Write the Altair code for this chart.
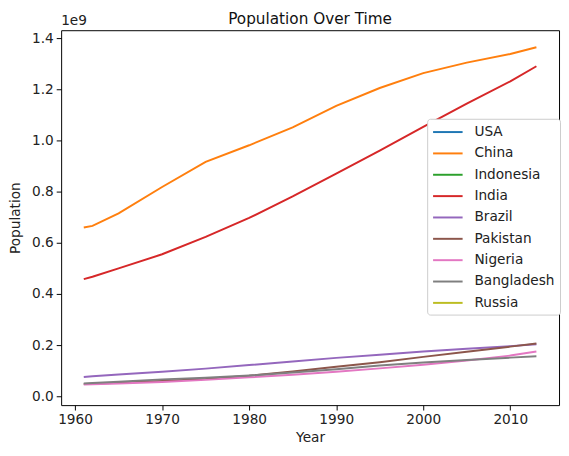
import altair as alt
import pandas as pd

countries = ["USA", "China", "Indonesia", "India", "Brazil", "Pakistan", "Nigeria", "Bangladesh", "Russia"]
colors = ["#1f77b4", "#ff7f0e", "#2ca02c", "#d62728", "#9467bd", "#8c564b", "#e377c2", "#7f7f7f", "#bcbd22"]

years = [1961, 1962, 1965, 1970, 1975, 1980, 1985, 1990, 1995, 2000, 2005, 2010, 2013]
china = [0.660, 0.666, 0.715, 0.818, 0.916, 0.981, 1.051, 1.135, 1.205, 1.263, 1.304, 1.338, 1.364]
india = [0.458, 0.467, 0.500, 0.555, 0.623, 0.697, 0.781, 0.870, 0.960, 1.053, 1.144, 1.231, 1.290]
brazil = [0.075, 0.078, 0.085, 0.096, 0.108, 0.122, 0.136, 0.150, 0.162, 0.175, 0.186, 0.196, 0.203]
pakistan = [0.048, 0.049, 0.053, 0.060, 0.068, 0.080, 0.097, 0.115, 0.133, 0.154, 0.174, 0.194, 0.206]
nigeria = [0.046, 0.047, 0.050, 0.056, 0.064, 0.074, 0.084, 0.096, 0.109, 0.123, 0.140, 0.159, 0.175]
bangladesh = [0.050, 0.052, 0.057, 0.066, 0.072, 0.081, 0.093, 0.106, 0.120, 0.132, 0.142, 0.151, 0.156]

series = {"China": china, "India": india, "Brazil": brazil, "Pakistan": pakistan,
          "Nigeria": nigeria, "Bangladesh": bangladesh}

rows = []
for name, vals in series.items():
    for yr, v in zip(years, vals):
        rows.append({"Country": name, "Year": yr, "Population": v * 1e9})
df = pd.DataFrame(rows)

FONT = "DejaVu Sans"
FS = 13.9

lines = alt.Chart(df).mark_line(strokeWidth=2).encode(
    x=alt.X("Year:Q",
            scale=alt.Scale(domain=[1958.4, 2015.6], nice=False, zero=False),
            axis=alt.Axis(values=[1960, 1970, 1980, 1990, 2000, 2010], format="d",
                          title="Year", titlePadding=4)),
    y=alt.Y("Population:Q",
            scale=alt.Scale(domain=[-0.0346e9, 1.4308e9], nice=False),
            axis=alt.Axis(values=[0, 0.2e9, 0.4e9, 0.6e9, 0.8e9, 1.0e9, 1.2e9, 1.4e9],
                          labelExpr="format(datum.value / 1e9, '.1f')",
                          title="Population", titlePadding=9)),
    color=alt.Color("Country:N",
                    scale=alt.Scale(domain=countries, range=colors),
                    sort=countries,
                    legend=alt.Legend(title=None, orient="none", legendX=372, legendY=90,
                                      symbolType="M-1,0L3,0", symbolSize=225, symbolStrokeWidth=2,
                                      labelFontSize=FS, labelFont=FONT, labelColor="#222",
                                      rowPadding=5.7, padding=5, strokeColor="#ccc",
                                      fillColor="white", cornerRadius=3, labelOffset=26)),
    detail="Country:N",
)

offset = alt.Chart(pd.DataFrame({"t": ["1e9"]})).mark_text(
    align="left", baseline="bottom", font=FONT, fontSize=FS, color="#222"
).encode(text="t:N", x=alt.value(0), y=alt.value(-2))

chart = alt.layer(lines, offset).properties(
    width=506, height=381,
    title=alt.TitleParams("Population Over Time", font=FONT, fontSize=15.5,
                          fontWeight="normal", color="#111", offset=-13),
    padding={"left": 0, "top": 0, "right": 0, "bottom": 0},
).configure_view(stroke="black", strokeWidth=1).configure_axis(
    grid=False, domain=False, tickColor="black", tickSize=5, tickWidth=1,
    labelFont=FONT, labelFontSize=FS, labelColor="#222",
    titleFont=FONT, titleFontSize=FS, titleFontWeight="normal", titleColor="#222",
    labelPadding=3,
)

chart.save("out.html", embed_options={"renderer": "svg", "actions": False})
